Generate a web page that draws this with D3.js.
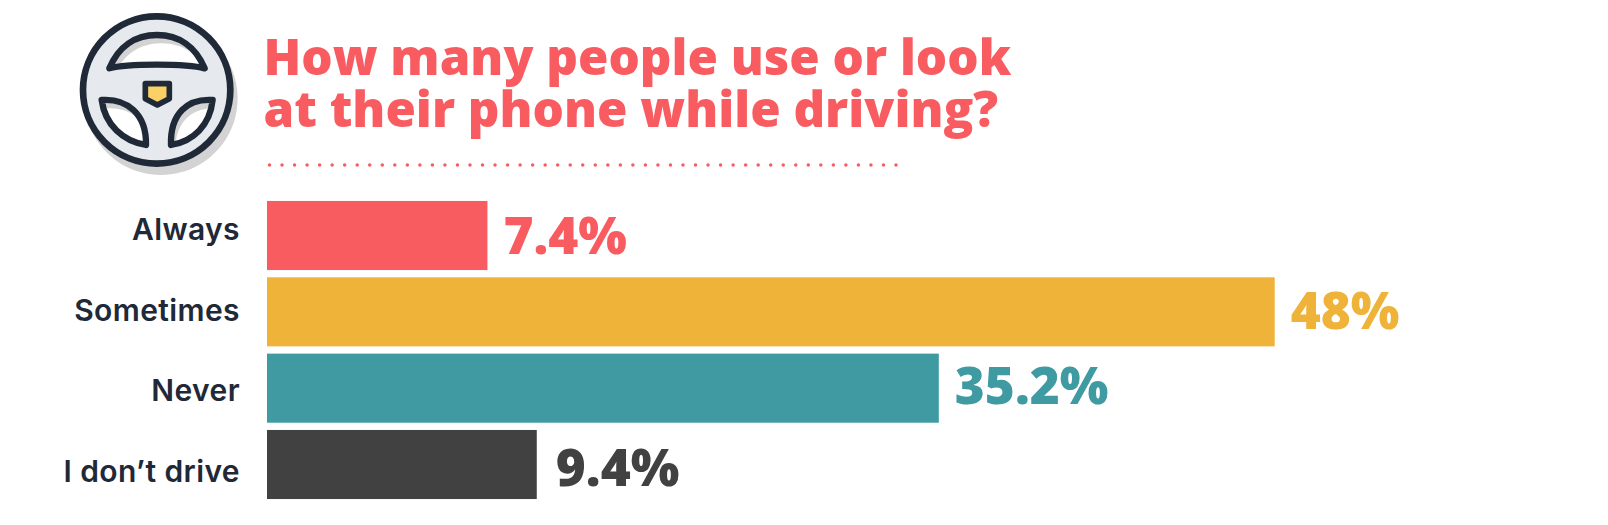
<!DOCTYPE html>
<html lang="en">
<head>
	<meta charset="UTF-8">
	<title>Phone use while driving</title>
	<script src="https://cdn.jsdelivr.net/npm/d3@7/dist/d3.min.js"></script>
	<style>
		html, body { margin: 0; padding: 0; background: #fff; }
		svg { display: block; }
	</style>
</head>
<body>
	<div id="container"></div>
	<script>
		var width = 1608;
		var height = 525;

		var categories = ["Always", "Sometimes", "Never", "I don\u2019t drive"];
		var valueLabels = ["7.4%", "48%", "35.2%", "9.4%"];
		// bar lengths as drawn in the picture, they do not follow the printed labels
		var barLengths = [10.5, 48, 32, 12.85];
		var barColors = ["#f95c60", "#eeb338", "#3f9aa2", "#414141"];
		var titleLines = ["How many people use or look", "at their phone while driving?"];

		var svg = d3.select("#container").append("svg")
				.attr("width", width)
				.attr("height", height);

		var x = d3.scaleLinear()
				.domain([0, 48])
				.range([267, 1274.7]);
		var y = d3.scaleBand()
				.domain(categories)
				.range([197.3, 502.7])
				.paddingInner(0.095)
				.paddingOuter(0.048);
		// the labels on the left sit a little wider apart than the bars
		var labelY = d3.scalePoint()
				.domain(categories)
				.range([240, 481.7]);

		// steering wheel, drawn in the 3x space of the crop
		var wheelRing = "M290,40 A230,230 0 1,1 289.9,40 Z";
		var holes = [
			"M148,205 C175,140 225,105 291,105 C357,105 407,140 434,205 C380,190 200,190 148,205 Z",
			"M125,300 C200,295 260,340 258,435 C190,425 135,375 125,300 Z",
			"M458,300 C383,295 330,340 333,435 C400,425 450,375 458,300 Z"
		];

		var icon = svg.append("g")
				.attr("transform", "translate(60,0) scale(0.3333)");

		icon.append("path")
				.attr("d", wheelRing + holes.join(""))
				.attr("transform", "translate(13,25)")
				.attr("fill-rule", "evenodd")
				.attr("fill", "#d3d3d3");
		icon.append("path")
				.attr("d", wheelRing + holes.join(""))
				.attr("fill-rule", "evenodd")
				.attr("fill", "#e6e9ed");
		icon.append("circle")
				.attr("cx", 290)
				.attr("cy", 270)
				.attr("r", 221)
				.attr("fill", "none")
				.attr("stroke", "#1f2937")
				.attr("stroke-width", 20);
		icon.selectAll(".hole").data(holes)
			.enter().append("path")
				.attr("class", "hole")
				.attr("d", d => d)
				.attr("fill", "none")
				.attr("stroke", "#1f2937")
				.attr("stroke-width", 19)
				.attr("stroke-linejoin", "round");
		icon.append("path")
				.attr("d", "M256,251 H328 V296 L292,315 L256,296 Z")
				.attr("fill", "#fbd065")
				.attr("stroke", "#1f2937")
				.attr("stroke-width", 17)
				.attr("stroke-linejoin", "round");

		// title
		svg.selectAll(".title").data(titleLines)
			.enter().append("text")
				.attr("class", "title")
				.attr("x", 263.5)
				.attr("y", (d,i) => 75 + i*52)
				.attr("font-family", "'Open Sans'")
				.attr("font-weight", 800)
				.attr("font-size", 49.3)
				.attr("fill", "#f95c60")
				.text(d => d);

		// dotted rule
		svg.append("line")
				.attr("x1", 269.5)
				.attr("y1", 165)
				.attr("x2", 898)
				.attr("y2", 165)
				.attr("stroke", "#f95c60")
				.attr("stroke-width", 3.5)
				.attr("stroke-linecap", "round")
				.attr("stroke-dasharray", "0 12.53");

		svg.selectAll(".bar").data(categories)
			.enter().append("rect")
				.attr("class", "bar")
				.attr("x", x(0))
				.attr("y", d => y(d))
				.attr("width", (d,i) => x(barLengths[i]) - x(0))
				.attr("height", y.bandwidth())
				.attr("fill", (d,i) => barColors[i]);

		svg.selectAll(".cat").data(categories)
			.enter().append("text")
				.attr("class", "cat")
				.attr("x", 240)
				.attr("y", d => labelY(d))
				.attr("text-anchor", "end")
				.attr("font-family", "Inter")
				.attr("font-weight", 600)
				.attr("font-size", 30)
				.attr("letter-spacing", 0.4)
				.attr("fill", "#1f2937")
				.text(d => d);

		// value labels are not quite centred on their bars in the original
		var valueShiftX = [0, 0, 0, 3];
		var valueShiftY = [0, -1.3, -2.7, 3];
		svg.selectAll(".val").data(categories)
			.enter().append("text")
				.attr("class", "val")
				.attr("x", (d,i) => x(barLengths[i]) + 16 + valueShiftX[i])
				.attr("y", (d,i) => y(d) + y.bandwidth()/2 + 18.5 + valueShiftY[i])
				.attr("font-family", "'Open Sans'")
				.attr("font-weight", 800)
				.attr("font-size", 51.3)
				.attr("fill", (d,i) => barColors[i])
				.text((d,i) => valueLabels[i]);
	</script>
</body>
</html>
